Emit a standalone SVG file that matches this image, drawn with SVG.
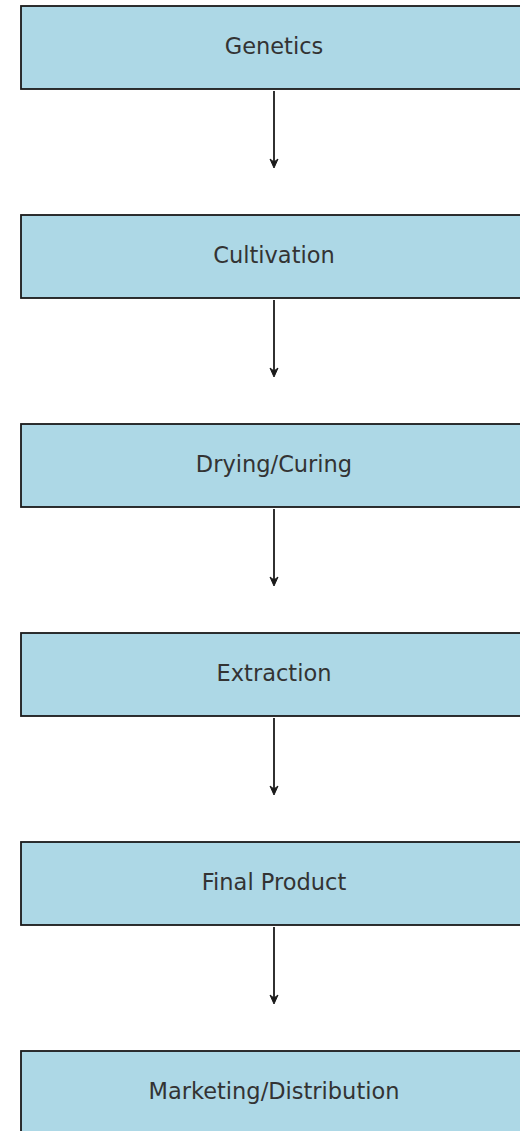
<svg xmlns="http://www.w3.org/2000/svg" width="520" height="1131" viewBox="0 0 520 1131">
<style>
.box rect{fill:#ADD8E6;stroke:#1a1a1a;stroke-width:1.8}
.box text{font-family:"DejaVu Sans",sans-serif;font-size:22.5px;fill:#333;text-anchor:middle;dominant-baseline:central}
.conn line{stroke:#1a1a1a;stroke-width:1.8}
.conn path{fill:#1a1a1a;stroke:#1a1a1a;stroke-width:1;stroke-linejoin:miter}
</style>
<rect width="520" height="1131" fill="#fff"/>
<g class="conn" id="connectors">
<line x1="274" y1="91" x2="274" y2="163"/><path d="M270 159 L274 168 L278 159 L274 162 Z"/>
<line x1="274" y1="300" x2="274" y2="372"/><path d="M270 368 L274 377 L278 368 L274 371 Z"/>
<line x1="274" y1="509" x2="274" y2="581"/><path d="M270 577 L274 586 L278 577 L274 580 Z"/>
<line x1="274" y1="718" x2="274" y2="790"/><path d="M270 786 L274 795 L278 786 L274 789 Z"/>
<line x1="274" y1="927" x2="274" y2="999"/><path d="M270 995 L274 1004 L278 995 L274 998 Z"/>
</g>
<g class="box" id="genetics"><rect x="21" y="6" width="506" height="83"/><text x="274" y="46">Genetics</text></g>
<g class="box" id="cultivation"><rect x="21" y="215" width="506" height="83"/><text x="274" y="255">Cultivation</text></g>
<g class="box" id="drying"><rect x="21" y="424" width="506" height="83"/><text x="274" y="464">Drying/Curing</text></g>
<g class="box" id="extraction"><rect x="21" y="633" width="506" height="83"/><text x="274" y="673">Extraction</text></g>
<g class="box" id="final"><rect x="21" y="842" width="506" height="83"/><text x="274" y="882">Final Product</text></g>
<g class="box" id="marketing"><rect x="21" y="1051" width="506" height="83"/><text x="274" y="1091">Marketing/Distribution</text></g>
</svg>
